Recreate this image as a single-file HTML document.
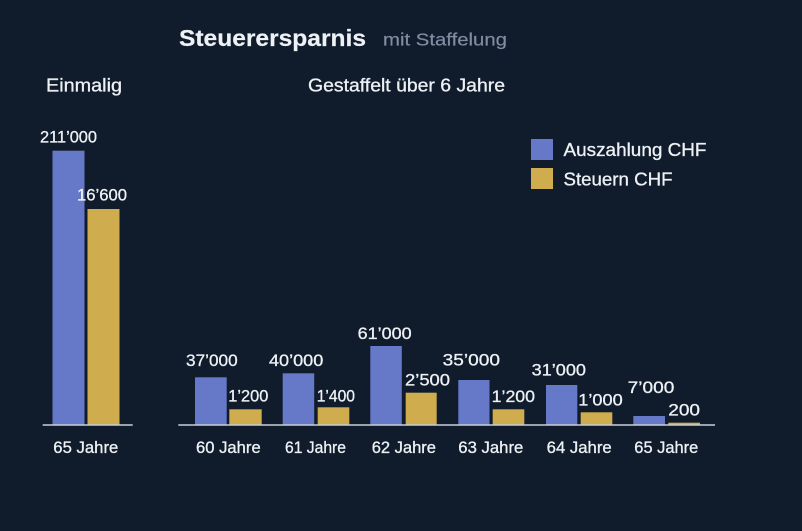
<!DOCTYPE html>
<html>
<head>
<meta charset="utf-8">
<style>
  html,body{margin:0;padding:0;background:#101c2b;}
  svg{display:block;}
  text{font-family:"Liberation Sans","DejaVu Sans",sans-serif;fill:#eef1f5;stroke:#eef1f5;stroke-width:0.3px;}
</style>
</head>
<body>
<svg width="802" height="531" viewBox="0 0 802 531" xmlns="http://www.w3.org/2000/svg">
  <rect x="0" y="0" width="802" height="531" fill="#101c2b"/>

  <!-- Title -->
  <text x="179" y="46" font-size="23.5" font-weight="bold" textLength="187" lengthAdjust="spacingAndGlyphs" style="stroke-width:0.2px">Steuerersparnis</text>
  <text x="383" y="45.7" font-size="17.5" textLength="124" lengthAdjust="spacingAndGlyphs" style="fill:#7f8ca2;stroke:#7f8ca2;stroke-width:0.2px">mit Staffelung</text>

  <!-- Section headers -->
  <text x="46" y="91.5" font-size="18.5" textLength="76" lengthAdjust="spacingAndGlyphs">Einmalig</text>
  <text x="308" y="91.5" font-size="18" textLength="197" lengthAdjust="spacingAndGlyphs">Gestaffelt über 6 Jahre</text>

  <!-- Legend -->
  <rect x="531" y="139" width="22" height="21" fill="#6678c8"/>
  <rect x="531" y="168" width="22" height="21" fill="#cfad4e"/>
  <text x="563.5" y="156" font-size="18" textLength="143" lengthAdjust="spacingAndGlyphs">Auszahlung CHF</text>
  <text x="563.5" y="185.5" font-size="18" textLength="109" lengthAdjust="spacingAndGlyphs">Steuern CHF</text>

  <!-- Left chart -->
  <rect x="52.5" y="150.7" width="32" height="274.3" fill="#6678c8"/>
  <rect x="87.5" y="209" width="32" height="216" fill="#cfad4e"/>
  <line x1="42.7" y1="425" x2="132.7" y2="425" stroke="#c9ced6" stroke-width="1.6"/>
  <text x="40" y="142.5" font-size="16.5" textLength="57" lengthAdjust="spacingAndGlyphs">211’000</text>
  <text x="77" y="200.5" font-size="16.5" textLength="50" lengthAdjust="spacingAndGlyphs">16’600</text>
  <text x="53.3" y="453" font-size="16.5" textLength="65" lengthAdjust="spacingAndGlyphs">65 Jahre</text>

  <!-- Right chart bars -->
  <g fill="#6678c8">
    <rect x="195" y="377.3" width="31.7" height="47.7"/>
    <rect x="282.7" y="373.3" width="31.5" height="51.7"/>
    <rect x="370.3" y="346" width="31.5" height="79"/>
    <rect x="458.3" y="380" width="31.2" height="45"/>
    <rect x="546" y="385" width="31.3" height="40"/>
    <rect x="633.3" y="416" width="31.7" height="9"/>
  </g>
  <g fill="#cfad4e">
    <rect x="229.3" y="409.3" width="32.4" height="15.7"/>
    <rect x="317.7" y="407.3" width="31.6" height="17.7"/>
    <rect x="405.7" y="392.7" width="31" height="32.3"/>
    <rect x="492.7" y="409.3" width="31.6" height="15.7"/>
    <rect x="580.7" y="412.3" width="31.6" height="12.7"/>
    <rect x="668.3" y="422.7" width="31.7" height="2.3"/>
  </g>
  <line x1="178.3" y1="425" x2="715" y2="425" stroke="#c9ced6" stroke-width="1.6"/>

  <!-- Value labels -->
  <g font-size="16.5">
    <text x="186" y="366" textLength="51.7" lengthAdjust="spacingAndGlyphs">37’000</text>
    <text x="228.3" y="401.5" textLength="40" lengthAdjust="spacingAndGlyphs">1’200</text>
    <text x="269" y="366" textLength="54.3" lengthAdjust="spacingAndGlyphs">40’000</text>
    <text x="316.7" y="401.5" textLength="38.3" lengthAdjust="spacingAndGlyphs">1’400</text>
    <text x="357.7" y="339" textLength="54" lengthAdjust="spacingAndGlyphs">61’000</text>
    <text x="405" y="385.5" textLength="45" lengthAdjust="spacingAndGlyphs">2’500</text>
    <text x="442.7" y="365.5" textLength="57.3" lengthAdjust="spacingAndGlyphs">35’000</text>
    <text x="491.7" y="402" textLength="43.3" lengthAdjust="spacingAndGlyphs">1’200</text>
    <text x="531.7" y="375.5" textLength="54.3" lengthAdjust="spacingAndGlyphs">31’000</text>
    <text x="578.3" y="405.5" textLength="44.4" lengthAdjust="spacingAndGlyphs">1’000</text>
    <text x="627.7" y="393" textLength="46.6" lengthAdjust="spacingAndGlyphs">7’000</text>
    <text x="668.3" y="415.5" textLength="31.7" lengthAdjust="spacingAndGlyphs">200</text>
  </g>

  <!-- Category labels -->
  <g font-size="16.5">
    <text x="196" y="453" textLength="64.7" lengthAdjust="spacingAndGlyphs">60 Jahre</text>
    <text x="285" y="453" textLength="61" lengthAdjust="spacingAndGlyphs">61 Jahre</text>
    <text x="371.7" y="453" textLength="64.3" lengthAdjust="spacingAndGlyphs">62 Jahre</text>
    <text x="458.3" y="453" textLength="65" lengthAdjust="spacingAndGlyphs">63 Jahre</text>
    <text x="546.7" y="453" textLength="65" lengthAdjust="spacingAndGlyphs">64 Jahre</text>
    <text x="634.3" y="453" textLength="64" lengthAdjust="spacingAndGlyphs">65 Jahre</text>
  </g>
</svg>
</body>
</html>
